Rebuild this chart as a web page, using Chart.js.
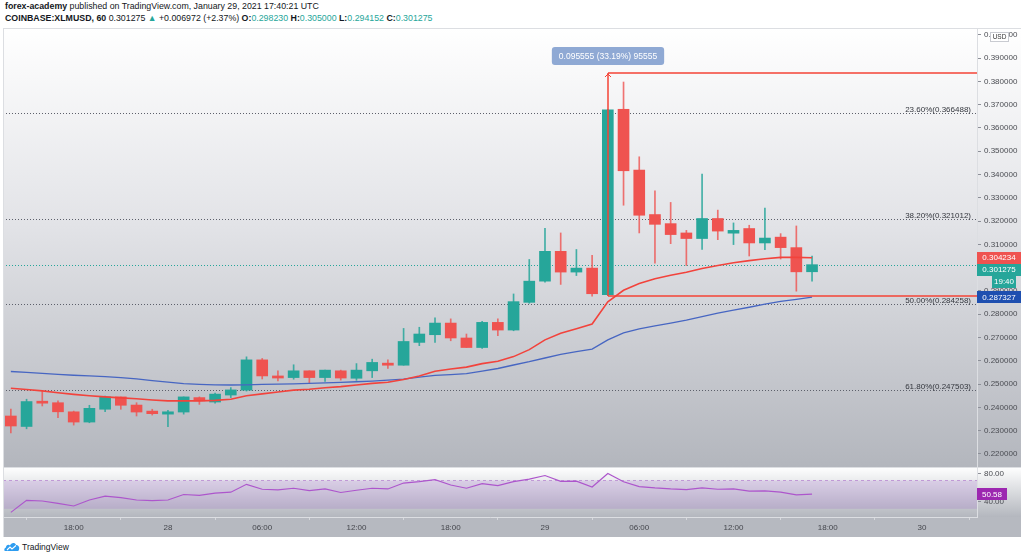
<!DOCTYPE html>
<html><head><meta charset="utf-8">
<script src="https://cdn.jsdelivr.net/npm/chart.js@4.4.1/dist/chart.umd.min.js"></script>
<style>
html,body{margin:0;padding:0;background:#fff;width:1024px;height:560px;overflow:hidden;font-family:"Liberation Sans",Arial,sans-serif;}
#hdr{position:absolute;left:5px;top:1px;font-size:8.8px;color:#131722;line-height:11.5px;white-space:nowrap}
#hdr b{font-weight:700}
.t{color:#26a69a}
#wrap{position:absolute;left:3px;top:28px;width:1018px;height:509px}
#logo{position:absolute;left:4px;top:541px;font-size:8.5px;color:#131722;display:flex;align-items:center;gap:2px}
</style></head><body>
<div id="hdr"><div><b>forex-academy</b> published on TradingView.com, January 29, 2021 17:40:21 UTC</div>
<div><b>COINBASE:XLMUSD, 60</b> 0.301275 <span class="t">▲</span> +0.006972 (+2.37%) <b>O:</b><span class="t">0.298230</span> <b>H:</b><span class="t">0.305000</span> <b>L:</b><span class="t">0.294152</span> <b>C:</b><span class="t">0.301275</span></div></div>
<div id="wrap"><canvas id="c" width="1018" height="509"></canvas></div>
<div id="logo"><svg width="16" height="11" viewBox="0 0 16 11"><path d="M1 10 C0 10 0 7 2 6.5 C2 4 4.5 3 6 4.5 C7 1.5 11 1 12 4 C14 4 16 6 15 8.5 C15 10 14 10 13 10 Z" fill="#2d9cf0"/><path d="M3 9 L6 6 L8 8 L12 4.5" stroke="#fff" stroke-width="1.1" fill="none"/></svg>TradingView</div>
<script>
// ---------- categories (hourly candles, Jan 27 14:00 -> Jan 30 03:00) ----------
const hours = [
 '27 14:00','27 15:00','27 16:00','27 17:00','27 18:00','27 19:00','27 20:00','27 21:00','27 22:00','27 23:00',
 '28 00:00','28 01:00','28 02:00','28 03:00','28 04:00','28 05:00','28 06:00','28 07:00','28 08:00','28 09:00','28 10:00','28 11:00',
 '28 12:00','28 13:00','28 14:00','28 15:00','28 16:00','28 17:00','28 18:00','28 19:00','28 20:00','28 21:00','28 22:00','28 23:00',
 '29 00:00','29 01:00','29 02:00','29 03:00','29 04:00','29 05:00','29 06:00','29 07:00','29 08:00','29 09:00','29 10:00','29 11:00',
 '29 12:00','29 13:00','29 14:00','29 15:00','29 16:00','29 17:00','29 18:00','29 19:00','29 20:00','29 21:00','29 22:00','29 23:00',
 '30 00:00','30 01:00','30 02:00','30 03:00'
];
const xTickLabels = {
 '27 18:00':'18:00','28 00:00':'28','28 06:00':'06:00','28 12:00':'12:00','28 18:00':'18:00',
 '29 00:00':'29','29 06:00':'06:00','29 12:00':'12:00','29 18:00':'18:00','30 00:00':'30'
};
// ---------- OHLC ----------
const open  = [0.2363,0.2318,0.2425,0.2420,0.2381,0.2337,0.2392,0.2445,0.2410,0.2384,0.2371,0.2380,0.2442,0.2423,0.2453,0.2474,0.2604,0.2535,0.2528,0.2557,0.2528,0.2557,0.2525,0.2557,0.2590,0.2581,0.2679,0.2712,0.2762,0.2698,0.2657,0.2765,0.2732,0.2851,0.2942,0.3070,0.2981,0.2998,0.2884,0.3680,0.3419,0.3228,0.3189,0.3149,0.3125,0.3211,0.3148,0.3168,0.3106,0.3131,0.3086,0.298230];
const high  = [0.2393,0.2435,0.2471,0.2428,0.2384,0.2409,0.2449,0.2445,0.2420,0.2392,0.2387,0.2445,0.2445,0.2461,0.2485,0.2617,0.2610,0.2557,0.2583,0.2557,0.2560,0.2560,0.2588,0.2607,0.2604,0.2739,0.2744,0.2784,0.2780,0.2715,0.2770,0.2780,0.2887,0.3035,0.3169,0.3149,0.3078,0.3053,0.3680,0.3797,0.3476,0.3330,0.3280,0.3160,0.3402,0.3247,0.3192,0.3182,0.3256,0.3146,0.3179,0.305000];
const low   = [0.2290,0.2308,0.2406,0.2356,0.2324,0.2334,0.2382,0.2392,0.2363,0.2367,0.2317,0.2371,0.2413,0.2418,0.2442,0.2470,0.2522,0.2514,0.2521,0.2502,0.2511,0.2517,0.2516,0.2528,0.2567,0.2581,0.2665,0.2679,0.2686,0.2657,0.2653,0.2708,0.2729,0.2847,0.2938,0.2928,0.2966,0.2877,0.2880,0.3268,0.3149,0.3019,0.3103,0.3009,0.3078,0.3120,0.3099,0.3050,0.3077,0.3037,0.2899,0.294152];
const close = [0.2320,0.2425,0.2418,0.2381,0.2337,0.2396,0.2445,0.2409,0.2380,0.2373,0.2381,0.2445,0.2428,0.2457,0.2475,0.2604,0.2535,0.2526,0.2557,0.2528,0.2560,0.2526,0.2560,0.2593,0.2581,0.2683,0.2715,0.2762,0.2698,0.2657,0.2765,0.2732,0.2854,0.2942,0.3070,0.2981,0.2998,0.2888,0.3678,0.3416,0.3225,0.3186,0.3142,0.3125,0.3211,0.3157,0.3160,0.3106,0.3127,0.3086,0.2982,0.301275];
// ---------- moving averages ----------
const emaFast = [0.2482,0.2477,0.2471,0.2463,0.2456,0.2450,0.2445,0.2441,0.2437,0.2432,0.2428,0.2428,0.2428,0.2430,0.2435,0.2450,0.2458,0.2466,0.2474,0.2478,0.2484,0.2489,0.2496,0.2503,0.2508,0.2520,0.2535,0.2555,0.2565,0.2573,0.2588,0.2598,0.2618,0.2648,0.2690,0.2718,0.2738,0.2758,0.2853,0.2903,0.2932,0.2952,0.2967,0.2980,0.2996,0.3009,0.3021,0.3030,0.3038,0.3044,0.3044,0.304234];
const emaSlow = [0.2554,0.2550,0.2546,0.2542,0.2538,0.2535,0.2532,0.2528,0.2522,0.2515,0.2508,0.2502,0.2499,0.2497,0.2496,0.2497,0.2499,0.2500,0.2501,0.2503,0.2505,0.2507,0.2510,0.2513,0.2517,0.2521,0.2530,0.2537,0.2541,0.2545,0.2556,0.2567,0.2582,0.2596,0.2612,0.2628,0.2639,0.2650,0.2690,0.2720,0.2737,0.2750,0.2762,0.2775,0.2790,0.2805,0.2818,0.2830,0.2843,0.2855,0.2864,0.287327];
// ---------- RSI ----------
const rsi = [25,42,41,37.8,34,42.4,48,45.7,42.4,41.5,42.4,50.2,48.9,52,53.4,64.5,57.6,56.7,59,55.7,58,53,56.2,59,58,66.3,68.2,71,63.6,59,65.4,62.6,68.2,71.8,76.9,68.6,69,60.8,79.7,68.2,61.3,59.4,58,57.1,59.4,57.6,58,54.8,55.3,53.4,49.7,50.58];
// ---------- axes / annotations ----------
const priceTicks = [0.22,0.23,0.24,0.25,0.26,0.27,0.28,0.29,0.30,0.31,0.32,0.33,0.34,0.35,0.36,0.37,0.38,0.39,0.40];
const rsiTicks = [40,80];
const rsiBand = [30,70];
const fibLevels = [0.366488,0.321012,0.284258,0.247503];
const fibLabels = ['23.60%','38.20%','50.00%','61.80%'];
const measureIndex = 38, measureHigh = 0.3835, measureLow = 0.287945;
const measureText = '0.095555 (33.19%) 95555';
const countdown = '19:40';

const UP = '#26a69a', DN = '#ef5350', MEAS = '#f44336';
const isUp = i => close[i] >= open[i];
const bodies = hours.map((h,i)=> i < open.length ? [Math.min(open[i],close[i]), Math.max(open[i],close[i])] : null);
const wicks  = hours.map((h,i)=> i < open.length ? [low[i], high[i]] : null);

function tag(ctx, x, yc, w, text, bg) {
  ctx.fillStyle = bg;
  ctx.fillRect(x, Math.round(yc - 6), w, 12);
  ctx.fillStyle = '#fff';
  ctx.font = '8px "Liberation Sans", Arial, sans-serif';
  ctx.textAlign = 'center'; ctx.textBaseline = 'middle';
  ctx.fillText(text, x + w/2, yc + 0.5);
}

const tvPlugin = {
  id: 'tv',
  beforeDraw(chart) {
    const {ctx, scales} = chart;
    const y = scales.y, r = scales.rsi, x = scales.x, W = chart.width;
    ctx.save();
    let g = ctx.createLinearGradient(0, y.top, 0, y.bottom);
    g.addColorStop(0, '#ffffff'); g.addColorStop(0.45, '#e2e3e7'); g.addColorStop(1, '#b3b6bd');
    ctx.fillStyle = g; ctx.fillRect(0, y.top, W, y.bottom - y.top);
    g = ctx.createLinearGradient(0, r.top, 0, r.bottom);
    g.addColorStop(0, '#ffffff'); g.addColorStop(1, '#b4b7be');
    ctx.fillStyle = g; ctx.fillRect(0, r.top, W, r.bottom - r.top);
    ctx.fillStyle = '#b6b9c0'; ctx.fillRect(0, x.top, W, x.bottom - x.top);
    ctx.restore();
  },
  beforeDatasetsDraw(chart) {
    const {ctx, chartArea: a, scales} = chart;
    const y = scales.y, r = scales.rsi;
    ctx.save();
    const yHi = r.getPixelForValue(rsiBand[1]), yLo = r.getPixelForValue(rsiBand[0]);
    ctx.fillStyle = 'rgba(150,90,200,0.2)';
    ctx.fillRect(a.left, yHi, a.right - a.left, yLo - yHi);
    ctx.strokeStyle = 'rgba(170,110,200,0.6)'; ctx.lineWidth = 1; ctx.setLineDash([3,3]);
    ctx.beginPath(); ctx.moveTo(a.left, Math.round(yHi)+0.5); ctx.lineTo(a.right, Math.round(yHi)+0.5); ctx.stroke();
    ctx.setLineDash([1,2]); ctx.strokeStyle = '#5d606b';
    ctx.font = '8px "Liberation Sans", Arial, sans-serif'; ctx.textAlign = 'right'; ctx.textBaseline = 'alphabetic';
    fibLevels.forEach((v,k) => {
      const py = Math.round(y.getPixelForValue(v)) + 0.5;
      ctx.beginPath(); ctx.moveTo(a.left, py); ctx.lineTo(a.right, py); ctx.stroke();
      ctx.fillStyle = '#33363d';
      ctx.fillText(fibLabels[k] + '(' + v.toFixed(6) + ')', a.right - 6, py - 2);
    });
    const lp = Math.round(y.getPixelForValue(close[close.length-1])) + 0.5;
    ctx.strokeStyle = UP;
    ctx.beginPath(); ctx.moveTo(a.left, lp); ctx.lineTo(a.right, lp); ctx.stroke();
    ctx.restore();
  },
  afterDatasetsDraw(chart) {
    const {ctx, chartArea: a, scales} = chart;
    const y = scales.y, x = scales.x;
    ctx.save();
    ctx.setLineDash([]);
    const mx = Math.round(x.getPixelForValue(measureIndex));
    const yt = Math.round(y.getPixelForValue(measureHigh));
    const yb = Math.round(y.getPixelForValue(measureLow));
    ctx.strokeStyle = MEAS; ctx.lineWidth = 1.5;
    ctx.beginPath(); ctx.moveTo(mx, yb); ctx.lineTo(mx, yt); ctx.stroke();
    ctx.beginPath(); ctx.moveTo(mx, yt); ctx.lineTo(a.right, yt); ctx.stroke();
    ctx.beginPath(); ctx.moveTo(mx, yb); ctx.lineTo(a.right, yb); ctx.stroke();
    ctx.lineWidth = 1;
    ctx.beginPath(); ctx.moveTo(mx - 3, yt + 4); ctx.lineTo(mx, yt + 1); ctx.lineTo(mx + 3, yt + 4); ctx.stroke();
    ctx.font = '8.5px "Liberation Sans", Arial, sans-serif';
    const tw = ctx.measureText(measureText).width + 14;
    const bx = mx - tw/2, by = yt - 26;
    ctx.fillStyle = '#8fa9d4';
    ctx.beginPath(); ctx.roundRect(bx, by, tw, 18, 3); ctx.fill();
    ctx.fillStyle = '#ffffff'; ctx.textAlign = 'center'; ctx.textBaseline = 'middle';
    ctx.fillText(measureText, mx, by + 9.5);
    ctx.restore();
  },
  afterDraw(chart) {
    const {ctx, chartArea: a, scales} = chart;
    const y = scales.y, r = scales.rsi;
    ctx.save();
    const n = close.length - 1;
    const redC = y.getPixelForValue(emaFast[n]);
    const tealC = Math.max(y.getPixelForValue(close[n]), redC + 12);
    tag(ctx, a.right, redC, 44, emaFast[n].toFixed(6), DN);
    tag(ctx, a.right, tealC, 44, close[n].toFixed(6), UP);
    tag(ctx, a.right + 15, tealC + 12, 24, countdown, UP);
    tag(ctx, a.right, y.getPixelForValue(emaSlow[n]), 44, emaSlow[n].toFixed(6), '#1e4fb0');
    tag(ctx, a.right, r.getPixelForValue(rsi[n]), 30, rsi[n].toFixed(2), '#9c27b0');
    ctx.fillStyle = '#ffffff'; ctx.strokeStyle = '#c9cbd1';
    ctx.fillRect(a.right + 13.5, 4.5, 18, 9); ctx.strokeRect(a.right + 13.5, 4.5, 18, 9);
    ctx.fillStyle = '#333'; ctx.font = '6.5px "Liberation Sans", Arial, sans-serif';
    ctx.textAlign = 'center'; ctx.textBaseline = 'middle';
    ctx.fillText('USD', a.right + 22.5, 9.5);
    ctx.strokeStyle = '#dcdee2'; ctx.lineWidth = 1;
    ctx.beginPath();
    ctx.moveTo(0.5, 0); ctx.lineTo(0.5, scales.x.bottom);
    ctx.moveTo(0, 0.5); ctx.lineTo(chart.width, 0.5);
    ctx.moveTo(0, Math.round(y.bottom) + 0.5); ctx.lineTo(chart.width, Math.round(y.bottom) + 0.5);
    ctx.stroke();
    ctx.restore();
  }
};

new Chart(document.getElementById('c'), {
  type: 'bar',
  data: {
    labels: hours,
    datasets: [
      { type:'line', label:'RSI', data: rsi, yAxisID:'rsi', borderColor:'#ad56cc', borderWidth:1.2, pointRadius:0, order:0 },
      { type:'line', label:'EMA fast', data: emaFast, yAxisID:'y', borderColor:'#f2433c', borderWidth:1.6, pointRadius:0, order:1 },
      { type:'line', label:'EMA slow', data: emaSlow, yAxisID:'y', borderColor:'#4766c2', borderWidth:1.3, pointRadius:0, order:2 },
      { label:'Body', data: bodies, yAxisID:'y', grouped:false, barThickness:11, minBarLength:2,
        backgroundColor: c => isUp(c.dataIndex) ? UP : DN, order:3 },
      { label:'Wick', data: wicks, yAxisID:'y', grouped:false, barThickness:1,
        backgroundColor: c => isUp(c.dataIndex) ? 'rgba(38,166,154,0.85)' : 'rgba(239,83,80,0.8)', order:4 }
    ]
  },
  options: {
    responsive:false, animation:false, events:[],
    layout:{padding:0},
    plugins:{legend:{display:false}, tooltip:{enabled:false}},
    scales:{
      x:{ type:'category', offset:true,
          grid:{display:true, drawOnChartArea:false, drawTicks:true, tickLength:3, color:'#d6d8dc'},
          border:{display:true, color:'#dcdee2'},
          ticks:{autoSkip:false, maxRotation:0, padding:3, color:'#45474d', font:{size:8, family:'"Liberation Sans", Arial, sans-serif'},
                 callback:(v,i)=> xTickLabels[hours[i]] ?? null},
          afterFit:s=>{ s.height = 20; s.paddingLeft = 0; s.paddingRight = 0; } },
      y:{ type:'linear', position:'right', stack:'panes', stackWeight:439, min:0.2144, max:0.4029,
          grid:{display:true, drawOnChartArea:false, drawTicks:true, tickLength:4, color:'#8c8f98'},
          border:{display:true, color:'#dcdee2'},
          ticks:{padding:3, color:'#4a4c52', font:{size:8, family:'"Liberation Sans", Arial, sans-serif'}, callback:v=>Number(v).toFixed(6)},
          afterBuildTicks:s=>{ s.ticks = priceTicks.map(v=>({value:v})); },
          afterFit:s=>{ s.width = 44; s.paddingTop = 0; s.paddingBottom = 0; } },
      rsi:{ type:'linear', position:'right', stack:'panes', stackWeight:50, min:18.5, max:88.9,
          grid:{display:true, drawOnChartArea:false, drawTicks:true, tickLength:4, color:'#8c8f98'},
          border:{display:true, color:'#dcdee2'},
          ticks:{padding:3, color:'#4a4c52', font:{size:8, family:'"Liberation Sans", Arial, sans-serif'}, callback:v=>Number(v).toFixed(2)},
          afterBuildTicks:s=>{ s.ticks = rsiTicks.map(v=>({value:v})); },
          afterFit:s=>{ s.width = 44; s.paddingTop = 0; s.paddingBottom = 0; } }
    }
  },
  plugins:[tvPlugin]
});
</script>
</body></html>
